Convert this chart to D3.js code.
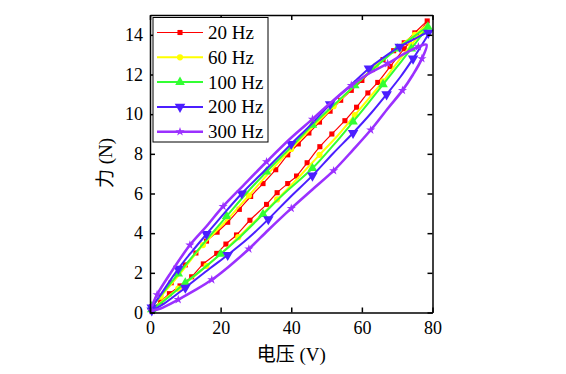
<!DOCTYPE html>
<html>
<head>
<meta charset="utf-8">
<script src="https://cdn.jsdelivr.net/npm/d3@7"></script>
<style>
  body { margin: 0; background: #fff; }
  text { font-family: "Liberation Serif", "DejaVu Serif", serif; }
</style>
</head>
<body>
<div id="chart-container"></div>
<script>
// Chart size and plot box
const width = 566;
const height = 374;
const marginLeft = 150;
const marginRight = 133.5;
const marginTop = 15;
const marginBottom = 61.5;

// Data: hysteresis loops, [voltage, force]
const seriesNames = ["20 Hz", "60 Hz", "100 Hz", "200 Hz", "300 Hz"];
const xTicks = [0, 20, 40, 60, 80];
const yTicks = [0, 2, 4, 6, 8, 10, 12, 14];

const lower20 = [[0.5,0.2],[3,0.55],[5.5,0.95],[8.5,1.34],[11.8,1.8],[15.1,2.45],[18.9,2.98],[21.5,3.45],[24.5,3.91],[28.3,4.65],[33,5.45],[36,6.04],[39,6.5],[41.5,6.88],[44.5,7.55],[48.1,8.36],[51.5,9.0],[55.2,9.67],[58.5,10.35],[61.7,11.07],[64.5,11.6],[68,12.4],[72,13.3],[75.5,14.0],[78.5,14.7]];
const upper20 = [[0.5,0.3],[3,0.8],[6,1.5],[10,2.4],[13,3.0],[16,3.6],[19,4.05],[22,4.55],[25.3,5.2],[28.5,5.85],[32,6.5],[35.6,7.2],[39,7.95],[42,8.5],[45,9.05],[48,9.6],[51,10.15],[54,10.7],[57,11.2],[60,11.7],[63,12.25],[66,12.75],[69,13.2],[72,13.6],[75,14.1],[78.5,14.7]];
const lower60 = [[0.5,0.15],[4,0.65],[8,1.2],[12,1.75],[16,2.35],[20,2.95],[25,3.8],[30,4.65],[36,5.7],[42,6.8],[48,7.95],[53.3,8.95],[58,9.95],[62,10.8],[66,11.65],[70,12.6],[74,13.5],[78.6,14.5]];
const upper60 = [[0.5,0.3],[3,0.8],[8,1.85],[15,3.4],[22,4.7],[28,5.9],[34,7.1],[40,8.25],[46,9.35],[52,10.4],[58,11.45],[64,12.45],[70,13.35],[75,14.0],[78.6,14.5]];
const lower100 = [[0.5,0.15],[4,0.6],[10,1.5],[15,2.2],[20,2.95],[26,3.9],[32,4.95],[38,6.0],[46,7.27],[52,8.45],[57.5,9.62],[62,10.6],[66,11.5],[70,12.4],[74,13.3],[77,14.0],[78.7,14.4]];
const upper100 = [[0.5,0.3],[3,0.85],[8,1.95],[15,3.45],[21.7,4.85],[27,5.95],[33,7.1],[40,8.35],[46,9.45],[52,10.45],[58,11.45],[64,12.4],[70,13.3],[75,13.95],[78.7,14.4]];
const lower200 = [[0.5,0.1],[4,0.45],[10,1.25],[17,2.23],[22,2.9],[27.8,3.74],[33.5,4.7],[39.6,5.8],[46,6.9],[51.9,8.03],[57.5,9.05],[62.7,10.07],[67,11.0],[71,11.9],[74.5,12.8],[77,13.5],[78.8,14.1]];
const upper200 = [[0.5,0.25],[3,0.9],[8,2.2],[12,3.1],[16,3.95],[21,5.0],[26,6.0],[33,7.25],[40,8.5],[46,9.55],[51,10.5],[56.5,11.4],[62,12.3],[66.5,12.9],[70.7,13.4],[75,13.8],[78.8,14.1]];
const lower300 = [[0.5,0.1],[3,0.2],[8,0.65],[13,1.15],[17.5,1.65],[22.2,2.3],[28,3.2],[33.5,4.16],[40,5.25],[46,6.2],[52,7.15],[57.5,8.2],[62.5,9.2],[67.4,10.3],[71.5,11.2],[74.5,12.0],[77,12.8],[78.3,13.5]];
const upper300 = [[0.5,0.3],[2,0.9],[5.5,1.9],[11.3,3.4],[16,4.35],[20.7,5.35],[26.4,6.4],[33,7.6],[39.6,8.75],[46,9.75],[51,10.55],[57,11.45],[62,12.05],[67.3,12.55],[72,13.05],[76,13.4],[78.3,13.5]];

const lowers = [lower20, lower60, lower100, lower200, lower300];
const uppers = [upper20, upper60, upper100, upper200, upper300];

// Styles
const colors = ["#ff0000", "#ffff00", "#33ff33", "#4b1fff", "#9b30ff"];
const widths = [1.2, 2, 2, 2, 2.6];
const markEvery = [1, 2, 2, 2, 2];
const symbols = [d3.symbolSquare, d3.symbolCircle, d3.symbolTriangle, d3.symbolTriangle, d3.symbolStar];
const symSizes = [26, 30, 40, 48, 26];
const symRotate = [0, 0, 0, 180, 0];

// Scales
const x = d3.scaleLinear().domain([0, 80]).range([marginLeft, width - marginRight]);
const y = d3.scaleLinear().domain([0, 15]).range([height - marginBottom, marginTop]);

const svg = d3.create("svg")
    .attr("width", width)
    .attr("height", height);

const line = d3.line()
    .x(d => x(d[0]))
    .y(d => y(d[1]))
    .curve(d3.curveCatmullRom);

// Loops
lowers.forEach((lo, i) => {
  const loop = lo.concat(uppers[i].slice().reverse().slice(1));
  const g = svg.append("g");
  g.append("path")
      .attr("d", line(loop))
      .attr("fill", "none")
      .attr("stroke", colors[i])
      .attr("stroke-width", widths[i]);
  const marks = loop.filter((d, j) => j % markEvery[i] === 0);
  g.selectAll("path.m")
    .data(marks)
    .join("path")
      .attr("class", "m")
      .attr("d", d3.symbol(symbols[i], symSizes[i]))
      .attr("transform", d => `translate(${x(d[0])},${y(d[1])}) rotate(${symRotate[i]})`)
      .attr("fill", colors[i]);
});

// Axes (MATLAB style box, inward ticks)
const axisStyle = g => {
  g.select(".domain").attr("stroke-width", 1.5);
  g.selectAll(".tick line").attr("stroke-width", 1.5);
  g.selectAll("text").attr("font-size", 18).attr("fill", "#000");
};
svg.append("g")
    .attr("transform", `translate(0,${height - marginBottom})`)
    .call(d3.axisBottom(x).tickValues(xTicks).tickSizeInner(-5).tickSizeOuter(0).tickPadding(9))
    .call(axisStyle);
svg.append("g")
    .attr("transform", `translate(0,${marginTop})`)
    .call(d3.axisTop(x).tickValues(xTicks).tickSizeInner(-5).tickSizeOuter(0).tickFormat(""))
    .call(axisStyle);
svg.append("g")
    .attr("transform", `translate(${marginLeft},0)`)
    .call(d3.axisLeft(y).tickValues(yTicks).tickSizeInner(-5).tickSizeOuter(0).tickPadding(7))
    .call(axisStyle);
svg.append("g")
    .attr("transform", `translate(${width - marginRight},0)`)
    .call(d3.axisRight(y).tickValues(yTicks).tickSizeInner(-5).tickSizeOuter(0).tickFormat(""))
    .call(axisStyle);

// Axis titles
svg.append("text")
    .attr("x", (x(0) + x(80)) / 2)
    .attr("y", 361)
    .attr("text-anchor", "middle")
    .attr("font-size", 19)
    .html('<tspan font-family="Noto Sans CJK SC">电压</tspan> (V)');
svg.append("text")
    .attr("transform", `translate(112,163) rotate(-90)`)
    .attr("text-anchor", "middle")
    .attr("font-size", 19)
    .html('<tspan font-family="Noto Sans CJK SC">力</tspan> (N)');

// Legend
const legend = svg.append("g");
legend.append("rect")
    .attr("x", 153).attr("y", 17.5)
    .attr("width", 115).attr("height", 124.5)
    .attr("fill", "#fff").attr("stroke", "#000").attr("stroke-width", 1);
seriesNames.forEach((name, i) => {
  const ly = 32.5 + i * 24.8;
  legend.append("line")
      .attr("x1", 157).attr("x2", 203).attr("y1", ly).attr("y2", ly)
      .attr("stroke", colors[i]).attr("stroke-width", widths[i]);
  legend.append("path")
      .attr("d", d3.symbol(symbols[i], symSizes[i]))
      .attr("transform", `translate(180,${ly}) rotate(${symRotate[i]})`)
      .attr("fill", colors[i]);
  legend.append("text")
      .attr("x", 208).attr("y", ly + 6.5)
      .attr("font-size", 19)
      .text(name);
});

d3.select("#chart-container").append(() => svg.node());
</script>
</body>
</html>
